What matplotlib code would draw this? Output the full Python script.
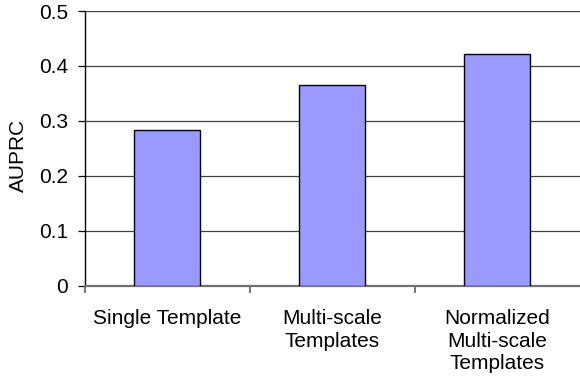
import matplotlib
matplotlib.use("Agg")
import matplotlib.pyplot as plt
import numpy as np

plt.rcParams['font.family'] = ['Liberation Sans', 'DejaVu Sans']

categories = ["Single Template", "Multi-scale\nTemplates", "Normalized\nMulti-scale\nTemplates"]
auprc = [0.283, 0.365, 0.422]
yticks = [0, 0.1, 0.2, 0.3, 0.4, 0.5]

fig = plt.figure(figsize=(5.8, 3.79), dpi=100)
ax = fig.add_axes([84.5 / 580, 1 - 285.7 / 379, 1 - 84.5 / 580, (285.7 - 11) / 379])

x = np.arange(len(categories))
ax.bar(x, auprc, width=0.4, color="#9999ff", edgecolor="black", linewidth=1.0, zorder=3)

ax.set_xlim(-0.5, 2.5)
ax.set_ylim(0, 0.5)
ax.set_yticks(yticks)
ax.set_yticklabels(["0", "0.1", "0.2", "0.3", "0.4", "0.5"], fontsize=15)
ax.yaxis.grid(True, color="#404040", linewidth=0.9, zorder=0)
ax.set_axisbelow(True)

# category labels sit under each bar, tick marks fall between categories
ax.set_xticks(x)
ax.set_xticklabels(categories, fontsize=15, linespacing=1.22, va="top")
ax.tick_params(axis="x", length=0, pad=17)
ax.set_xticks([-0.5, 0.5, 1.5], minor=True)
ax.tick_params(axis="x", which="minor", length=5, width=1.2, color="#606060", direction="out")
ax.tick_params(axis="y", length=5, width=0.9, direction="out", pad=7)

ax.set_ylabel("AUPRC", fontsize=15)
ax.yaxis.set_label_coords(-0.115, 0.475)

for side in ["top", "right"]:
    ax.spines[side].set_visible(False)
ax.spines["left"].set_color("black")
ax.spines["left"].set_linewidth(1.0)
ax.spines["bottom"].set_color("#707070")
ax.spines["bottom"].set_linewidth(1.6)

fig.savefig("out.png", dpi=100)
